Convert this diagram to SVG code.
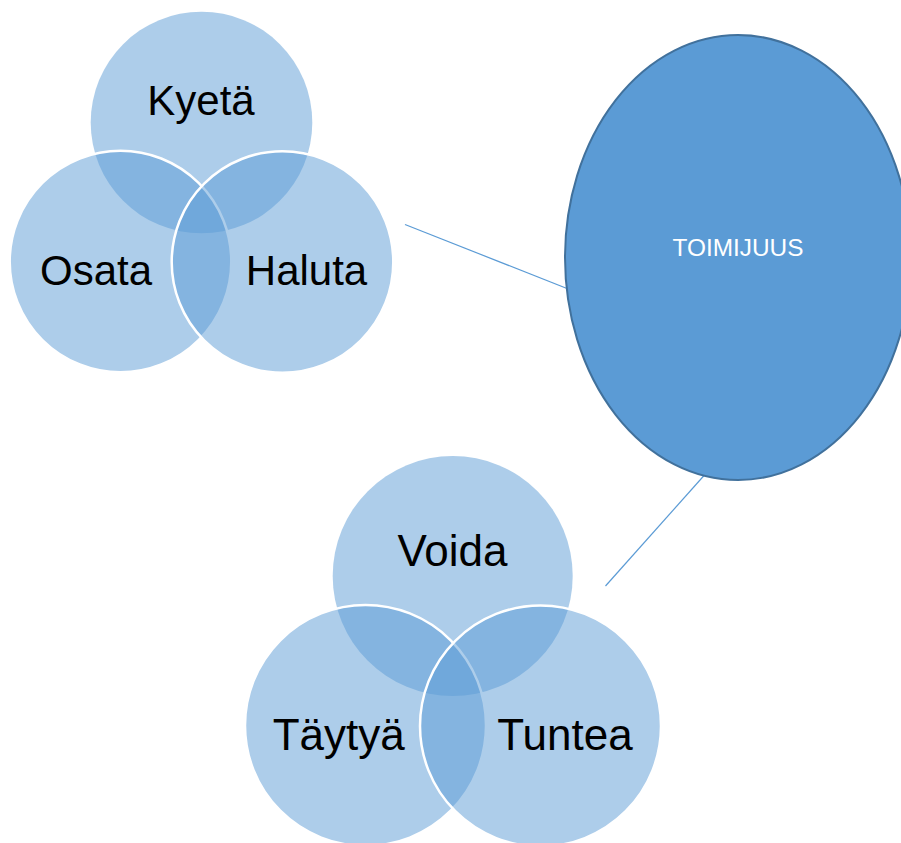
<svg xmlns="http://www.w3.org/2000/svg" width="901" height="843" viewBox="0 0 901 843">
<style>
.venn{fill:#5b9bd5;fill-opacity:0.5;}
.ws{stroke:#ffffff;stroke-width:2.5;}
.lbl{font-family:"Liberation Sans",Arial,sans-serif;fill:#000000;text-anchor:middle;}
.conn{stroke:#5b9bd5;stroke-width:1.2;fill:none;}
</style>
<rect width="901" height="843" fill="#ffffff"/>
<g id="connectors">
<line class="conn" x1="405" y1="224.5" x2="567" y2="288.5"/>
<line class="conn" x1="605.5" y1="586" x2="704.5" y2="475"/>
</g>
<g id="venn-top">
<g id="kyeta"><circle class="venn" cx="201.5" cy="122.5" r="110.8"/><text class="lbl" x="201" y="115" font-size="42">Kyetä</text></g>
<g id="osata"><circle class="venn ws" cx="120.5" cy="261.5" r="110.8"/><text class="lbl" x="96" y="285" font-size="42">Osata</text></g>
<g id="haluta"><circle class="venn ws" cx="282.5" cy="262" r="110.8"/><text class="lbl" x="306.5" y="285" font-size="42">Haluta</text></g>
</g>
<g id="toimijuus">
<ellipse cx="738" cy="257.5" rx="173" ry="222.5" fill="#5b9bd5" stroke="#41719c" stroke-width="2"/>
<text x="738" y="256" font-family="&quot;Liberation Sans&quot;,Arial,sans-serif" font-size="24" fill="#ffffff" text-anchor="middle" textLength="131" lengthAdjust="spacingAndGlyphs">TOIMIJUUS</text>
</g>
<g id="venn-bottom">
<g id="voida"><circle class="venn" cx="452.7" cy="576" r="120"/><text class="lbl" x="452.5" y="566" font-size="44">Voida</text></g>
<g id="taytya"><circle class="venn ws" cx="365.5" cy="725.5" r="120.5"/><text class="lbl" x="338.7" y="750" font-size="44">Täytyä</text></g>
<g id="tuntea"><circle class="venn ws" cx="540.5" cy="726" r="120.5"/><text class="lbl" x="565" y="750" font-size="44">Tuntea</text></g>
</g>
</svg>
